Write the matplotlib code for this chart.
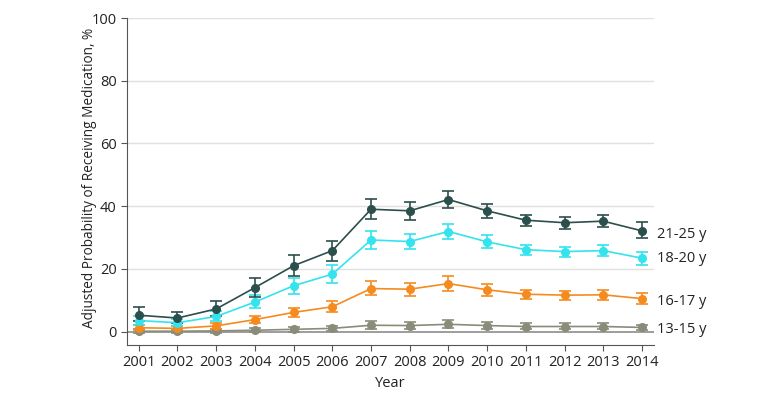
import matplotlib
matplotlib.use('Agg')
import matplotlib.pyplot as plt

plt.rcParams['font.family'] = ['Open Sans', 'DejaVu Sans']

years = list(range(2001, 2015))

# estimated probability (%) and error bar bounds per age group
age_21_25 = [5.2, 4.3, 7.2, 14.0, 21.0, 25.8, 39.0, 38.5, 42.1, 38.5, 35.5, 34.7, 35.2, 32.1]
lo_21_25 = [3.5, 2.8, 5.0, 11.0, 17.8, 22.5, 35.8, 35.6, 39.5, 36.2, 33.8, 32.8, 33.2, 29.8]
hi_21_25 = [7.7, 6.3, 9.8, 17.0, 24.3, 29.0, 42.3, 41.3, 44.8, 40.8, 37.3, 36.6, 37.2, 34.8]

age_18_20 = [3.5, 2.8, 4.8, 9.4, 14.6, 18.3, 29.2, 28.7, 31.9, 28.6, 26.1, 25.5, 25.8, 23.4]
lo_18_20 = [2.2, 1.8, 3.3, 7.5, 12.0, 15.5, 26.3, 26.2, 29.5, 26.5, 24.5, 23.9, 24.1, 21.3]
hi_18_20 = [5.0, 4.0, 6.5, 11.5, 17.2, 21.2, 32.2, 31.2, 34.3, 30.7, 27.7, 27.1, 27.5, 25.5]

age_16_17 = [1.2, 1.0, 1.8, 3.8, 6.1, 7.9, 13.7, 13.5, 15.3, 13.3, 11.9, 11.6, 11.7, 10.5]
lo_16_17 = [0.5, 0.4, 0.9, 2.7, 4.6, 6.3, 11.5, 11.4, 13.0, 11.4, 10.5, 10.2, 10.2, 8.9]
hi_16_17 = [2.0, 1.7, 2.8, 5.0, 7.6, 9.6, 16.0, 15.6, 17.6, 15.3, 13.4, 13.0, 13.3, 12.2]

age_13_15 = [0.1, 0.1, 0.2, 0.4, 0.7, 1.0, 2.0, 1.9, 2.3, 1.9, 1.6, 1.6, 1.6, 1.3]
lo_13_15 = [-0.5, -0.5, -0.4, -0.3, 0.0, 0.2, 0.8, 0.8, 1.0, 0.9, 0.7, 0.7, 0.7, 0.4]
hi_13_15 = [0.7, 0.7, 0.8, 1.1, 1.4, 1.9, 3.3, 3.1, 3.7, 3.0, 2.6, 2.6, 2.6, 2.2]

groups = ['21-25 y', '18-20 y', '16-17 y', '13-15 y']
colors = ['#2b4f4c', '#33e3ee', '#f58b1f', '#8a8c79']
label_pos = [32.1, 23.4, 10.5, 1.3]
label_offset = [-1.0, 0.0, -0.8, -0.8]

series = [
    (age_21_25, lo_21_25, hi_21_25),
    (age_18_20, lo_18_20, hi_18_20),
    (age_16_17, lo_16_17, hi_16_17),
    (age_13_15, lo_13_15, hi_13_15),
]

fig = plt.figure(figsize=(7.8, 4), dpi=100)
ax = fig.add_axes([0.163, 0.1375, 0.675, 0.8175])

for yv in [20, 40, 60, 80, 100]:
    ax.axhline(yv, color='#e0e0e0', lw=1, zorder=0)
ax.axhline(0, color='#8c8c8c', lw=1.2, zorder=1)

for (vals, lo, hi), c, name in zip(series[::-1], colors[::-1], groups[::-1]):
    err = [[v - l for v, l in zip(vals, lo)], [h - v for v, h in zip(vals, hi)]]
    ax.errorbar(years, vals, yerr=err, color=c, marker='o', ms=5.5,
                lw=1.2, elinewidth=1.2, capsize=4, capthick=1.2, zorder=3)

for name, y0, off in zip(groups, label_pos, label_offset):
    ax.text(2014.38, y0 + off, name, fontsize=10.5, va='center', ha='left',
            color='#222222', clip_on=False)

ax.set_xlim(2000.7, 2014.3)
ax.set_ylim(-4.3, 100)
ax.set_xticks(years)
ax.set_yticks([0, 20, 40, 60, 80, 100])
ax.tick_params(labelsize=10.5, colors='#222222', length=4, width=0.8)
ax.tick_params(axis='both', color='#555555')

ax.spines['top'].set_visible(False)
ax.spines['right'].set_visible(False)
ax.spines['left'].set_color('#555555')
ax.spines['bottom'].set_color('#555555')

ax.set_xlabel('Year', fontsize=10.5, color='#222222', labelpad=4)
ax.set_ylabel('Adjusted Probability of Receiving Medication, %', fontsize=9.8,
              color='#222222')
ax.yaxis.set_label_coords(-0.057, 0.51)

fig.savefig('out.png', dpi=100)
